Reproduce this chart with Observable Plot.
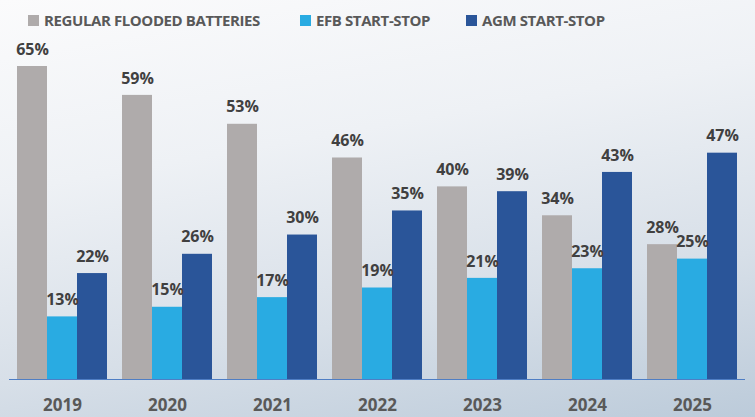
<!DOCTYPE html>
<html>
<head>
<meta charset="utf-8">
<script src="https://cdn.jsdelivr.net/npm/d3@7"></script>
<script src="https://cdn.jsdelivr.net/npm/@observablehq/plot@0.6"></script>
<style>
  html, body { margin: 0; padding: 0; }
  #wrap {
    position: relative; width: 755px; height: 417px; overflow: hidden;
    background: linear-gradient(170deg, #fbfbfc 0%, #eef1f5 35%, #d7dfe8 70%, #bccbda 100%);
    font-family: "Open Sans", sans-serif;
  }
  #legend { position: absolute; top: 10px; left: 0; width: 755px; height: 22px; }
  .item { position: absolute; display: flex; align-items: center; font-weight: 700; font-size: 15px; letter-spacing: -0.4px; color: #595959; white-space: nowrap; }
  .sw { width: 11px; height: 11px; margin-right: 5px; }
  #chart { position: absolute; top: 0; left: 0; }
</style>
</head>
<body>
<div id="wrap">
  <div id="chart"></div>
  <div id="legend"></div>
</div>
<script>
const years = ["2019", "2020", "2021", "2022", "2023", "2024", "2025"];
const seriesNames = ["REGULAR FLOODED BATTERIES", "EFB START-STOP", "AGM START-STOP"];
const seriesColors = ["#afabab", "#29abe2", "#2a5599"];
const regularFlooded = [65, 59, 53, 46, 40, 34, 28];
const efbStartStop = [13, 15, 17, 19, 21, 23, 25];
const agmStartStop = [22, 26, 30, 35, 39, 43, 47];
const legendLeft = [28, 300, 466];

const allValues = [regularFlooded, efbStartStop, agmStartStop];
const data = [];
years.forEach((y, i) => {
  seriesNames.forEach((s, j) => data.push({year: y, series: s, value: allValues[j][i]}));
});

const plot = Plot.plot({
  width: 755,
  height: 417,
  marginTop: 66,
  marginBottom: 38,
  marginLeft: 15,
  marginRight: 16,
  style: {background: "transparent", fontFamily: "'Open Sans', sans-serif", overflow: "visible"},
  fx: {domain: years, paddingInner: 0.126, paddingOuter: 0, label: null, axis: "bottom", tickSize: 0, tickPadding: 19},
  x: {domain: seriesNames, padding: 0, axis: null},
  y: {domain: [0, 65], axis: null},
  color: {domain: seriesNames, range: seriesColors},
  marks: [
    Plot.barY(data, {fx: "year", x: "series", y: "value", fill: "series"}),
    Plot.ruleY([0], {stroke: "#4f7ec4", strokeWidth: 1.2, insetLeft: -7, insetRight: -7}),
    Plot.text(data, {fx: "year", x: "series", y: "value", text: d => d.value + "%", dy: -17,
      fontSize: 16, fontWeight: "bold", fill: "#404040"})
  ]
});
plot.querySelectorAll("[aria-label='fx-axis tick label'] text, [aria-label='fx-axis'] text").forEach(t => {
  t.setAttribute("font-size", 17); t.setAttribute("font-weight", "bold"); t.setAttribute("fill", "#595959");
});
document.getElementById("chart").appendChild(plot);

const legend = document.getElementById("legend");
seriesNames.forEach((s, j) => {
  const it = document.createElement("div");
  it.className = "item";
  it.style.left = legendLeft[j] + "px";
  it.innerHTML = `<span class="sw" style="background:${seriesColors[j]}"></span>${s}`;
  legend.appendChild(it);
});
</script>
</body>
</html>
